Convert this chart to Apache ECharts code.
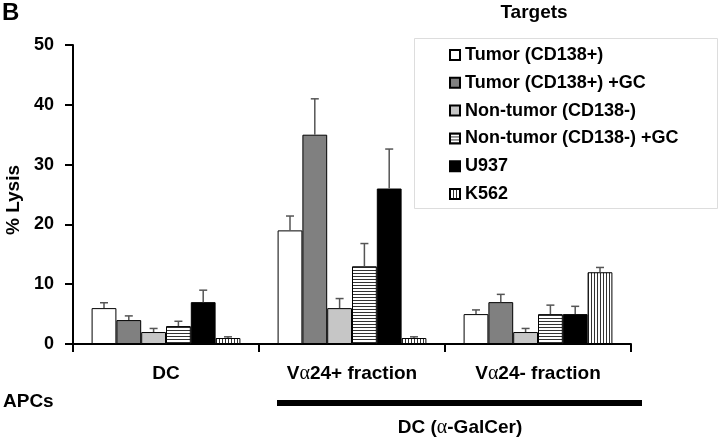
<!DOCTYPE html>
<html>
<head>
<meta charset="utf-8">
<script src="https://cdn.jsdelivr.net/npm/echarts@6/dist/echarts.min.js"></script>
<style>
html,body{margin:0;padding:0;background:#fff;}
#chart{width:720px;height:440px;}
</style>
</head>
<body>
<div id="chart"></div>
<script>
// ---- data ----
const categories = ['DC', 'Vα24+ fraction', 'Vα24- fraction'];
const seriesNames = ['Tumor (CD138+)', 'Tumor (CD138+) +GC', 'Non-tumor (CD138-)', 'Non-tumor (CD138-) +GC', 'U937', 'K562'];
const tumor = [6, 19, 5];
const tumorErr = [0.9, 2.4, 0.7];
const tumorGC = [4, 35, 7];
const tumorGCErr = [0.7, 6, 1.3];
const nonTumor = [2, 6, 2];
const nonTumorErr = [0.6, 1.6, 0.6];
const nonTumorGC = [3, 13, 5];
const nonTumorGCErr = [0.8, 3.8, 1.5];
const u937 = [7, 26, 5];
const u937Err = [2, 6.6, 1.3];
const k562 = [1, 1, 12];
const k562Err = [0.2, 0.2, 0.8];
const yTicks = [0, 10, 20, 30, 40, 50];

const values = [tumor, tumorGC, nonTumor, nonTumorGC, u937, k562];
const errors = [tumorErr, tumorGCErr, nonTumorErr, nonTumorGCErr, u937Err, k562Err];

function makePattern(w, h, draw) {
  const c = document.createElement('canvas');
  c.width = w; c.height = h;
  const ctx = c.getContext('2d');
  ctx.fillStyle = '#ffffff';
  ctx.fillRect(0, 0, w, h);
  draw(ctx);
  return { image: c, repeat: 'repeat' };
}
const hStripes = makePattern(4, 3, ctx => { ctx.fillStyle = '#333'; ctx.fillRect(0, 0, 4, 1); });
const vStripes = makePattern(3, 4, ctx => { ctx.fillStyle = '#333'; ctx.fillRect(0, 0, 1, 4); });
const fills = ['#ffffff', '#808080', '#c6c6c6', hStripes, '#000000', vStripes];

const chart = echarts.init(document.getElementById('chart'));
const FONT = 'Liberation Sans, Arial, sans-serif';
const NBARS = 6;
const CATGAP = 0.2;

const barSeries = seriesNames.map((name, i) => ({
  name: name,
  type: 'bar',
  data: values[i],
  barGap: '0%',
  barCategoryGap: '20%',
  itemStyle: { color: fills[i], borderColor: '#000', borderWidth: 1 },
  z: 2
}));

const errSeries = seriesNames.map((name, i) => ({
  name: name + ' err',
  type: 'custom',
  z: 3,
  silent: true,
  data: values[i].map((v, k) => [k, v, errors[i][k]]),
  renderItem: function (params, api) {
    const k = api.value(0), v = api.value(1), e = api.value(2);
    const base = api.coord([k, v]);
    const top = api.coord([k, v + e]);
    const band = api.size([1, 0])[0];
    const bw = band * (1 - CATGAP) / NBARS;
    const x = base[0] - band * (1 - CATGAP) / 2 + bw * (i + 0.5);
    const style = { stroke: '#555', lineWidth: 1.5, fill: null };
    return {
      type: 'group',
      children: [
        { type: 'line', shape: { x1: x, y1: base[1], x2: x, y2: top[1] }, style: style },
        { type: 'line', shape: { x1: x - 4, y1: top[1], x2: x + 4, y2: top[1] }, style: style }
      ]
    };
  }
}));

const option = {
  animation: false,
  backgroundColor: '#fff',
  grid: { left: 73, right: 89, top: 45, bottom: 96, containLabel: false },
  legend: {
    data: seriesNames.map(n => ({ name: n, icon: 'rect' })),
    orient: 'vertical',
    left: 449,
    top: 46,
    itemWidth: 10,
    itemHeight: 10,
    itemGap: 9.8,
    padding: 0,
    textStyle: { fontFamily: FONT, fontWeight: 'bold', fontSize: 18, color: '#000', lineHeight: 18 }
  },
  xAxis: {
    type: 'category',
    data: categories,
    axisLine: { lineStyle: { color: '#000', width: 2 } },
    axisTick: { show: true, length: 8, lineStyle: { color: '#000', width: 2 } },
    axisLabel: {
      margin: 20,
      color: '#000',
      formatter: function (val) {
        if (val.indexOf('α') >= 0) {
          const parts = val.split('α');
          return '{b|' + parts[0] + '}{a|α}{b|' + parts[1] + '}';
        }
        return '{b|' + val + '}';
      },
      rich: {
        b: { fontFamily: FONT, fontWeight: 'bold', fontSize: 19, color: '#000' },
        a: { fontFamily: 'Liberation Serif, serif', fontWeight: 'normal', fontSize: 20, color: '#000' }
      }
    }
  },
  yAxis: {
    type: 'value',
    min: 0, max: 50, interval: 10,
    axisLine: { show: true, lineStyle: { color: '#000', width: 2 } },
    axisTick: { show: true, length: 8, lineStyle: { color: '#000', width: 2 } },
    splitLine: { show: false },
    axisLabel: { margin: 19, color: '#000', fontFamily: FONT, fontWeight: 'bold', fontSize: 18,
      formatter: function (v) { return yTicks.indexOf(v) >= 0 ? String(v) : ''; } }
  },
  graphic: [
    { type: 'text', left: 2, top: 1, style: { text: 'B', font: 'bold 24px ' + FONT, fill: '#000' } },
    { type: 'text', x: 534, y: 13, style: { text: 'Targets', font: 'bold 19px ' + FONT, fill: '#000', align: 'center', verticalAlign: 'middle' } },
    { type: 'rect', shape: { x: 414.5, y: 38.5, width: 303, height: 170 }, style: { fill: 'rgba(0,0,0,0)', stroke: '#dddddd', lineWidth: 1 }, z: 0 },
    { type: 'text', x: 14, y: 200, rotation: Math.PI / 2, style: { text: '% Lysis', font: 'bold 19px ' + FONT, fill: '#000', align: 'center', verticalAlign: 'middle' } },
    { type: 'text', x: 3, y: 402, style: { text: 'APCs', font: 'bold 19px ' + FONT, fill: '#000', align: 'left', verticalAlign: 'middle' } },
    { type: 'rect', shape: { x: 277, y: 400, width: 365, height: 6 }, style: { fill: '#000' } },
    { type: 'text', x: 460, y: 428, style: {
        text: '{b|DC (}{a|α}{b|-GalCer)}', align: 'center', verticalAlign: 'middle',
        rich: {
          b: { fontFamily: FONT, fontWeight: 'bold', fontSize: 19, fill: '#000' },
          a: { fontFamily: 'Liberation Serif, serif', fontWeight: 'normal', fontSize: 20, fill: '#000' }
        } } }
  ],
  series: barSeries.concat(errSeries)
};
chart.setOption(option);
</script>
</body>
</html>
